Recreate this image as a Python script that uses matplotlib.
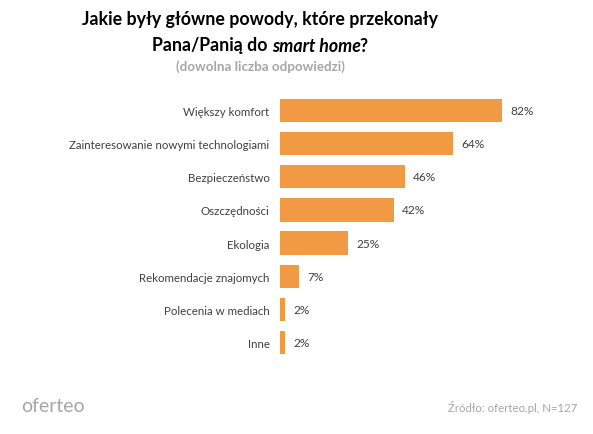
import matplotlib.pyplot as plt

# -----------------------------
# Data
# -----------------------------
categories = [
    "Większy komfort",
    "Zainteresowanie nowymi technologiami",
    "Bezpieczeństwo",
    "Oszczędności",
    "Ekologia",
    "Rekomendacje znajomych",
    "Polecenia w mediach",
    "Inne",
]
values = [82, 64, 46, 42, 25, 7, 2, 2]
value_labels = ["82%", "64%", "46%", "42%", "25%", "7%", "2%", "2%"]

title_line1 = "Jakie były główne powody, które przekonały"
title_parts = ["Pana/Panią do ", "smart home", "?"]
subtitle = "(dowolna liczba odpowiedzi)"
source = "Źródło: oferteo.pl, N=127"
logo = "oferteo"

BAR = "#f29a43"
TXT = "#404040"
W, H = 593, 435

plt.rcParams['font.family'] = ['Lato', 'DejaVu Sans']

fig = plt.figure(figsize=(W / 100, H / 100), dpi=100)
fig.patch.set_facecolor("white")

# -----------------------------
# Bars
# -----------------------------
ax_left, ax_right = 280, 550.7
ax_top, ax_bot = 94.9, 360.1
ax = fig.add_axes([ax_left / W, 1 - ax_bot / H,
                   (ax_right - ax_left) / W, (ax_bot - ax_top) / H])
pos = list(range(len(categories)))
ax.barh(pos, values, height=0.7, color=BAR)
ax.set_xlim(0, 100)
ax.set_ylim(len(categories) - 0.5, -0.5)
for s in ax.spines.values():
    s.set_visible(False)
ax.set_xticks([])
ax.set_yticks(pos)
ax.set_yticklabels(categories, fontsize=8.3, color=TXT)
ax.tick_params(axis='y', length=0, pad=7.5)
for p, v, lab in zip(pos, values, value_labels):
    ax.annotate(lab, (v, p), xytext=(6, 0), textcoords='offset points',
                va='center', ha='left', fontsize=8.6, color=TXT)

# -----------------------------
# Title
# -----------------------------
cx = 260 / W
fig.text(cx, 1 - 19 / H, title_line1, ha='center', va='center',
         fontsize=12.8, fontweight='bold', color='black')

# second line mixes upright and italic, place pieces side by side
renderer = fig.canvas.get_renderer()
y2 = 1 - 46 / H
pieces = []
for i, part in enumerate(title_parts):
    t = fig.text(0, y2, part, ha='left', va='center', fontsize=12.8,
                 fontweight='bold', color='black',
                 style='italic' if i == 1 else 'normal')
    pieces.append(t)
widths = [t.get_window_extent(renderer).width for t in pieces]
widths[1] -= 1.5
x = cx * W - sum(widths) / 2
for t, w in zip(pieces, widths):
    t.set_x(x / W)
    x += w

fig.text(cx, 1 - 67 / H, subtitle, ha='center', va='center',
         fontsize=9.6, fontweight='bold', color='#a6a6a6')

# -----------------------------
# Footer
# -----------------------------
fig.text(577 / W, 1 - 408 / H, source, ha='right', va='center',
         fontsize=8.2, color='#a6a6a6')
fig.text(21 / W, 1 - 407 / H, logo, ha='left', va='center',
         fontsize=14, color='#a6a6a6')

fig.savefig("out.png", dpi=100)
